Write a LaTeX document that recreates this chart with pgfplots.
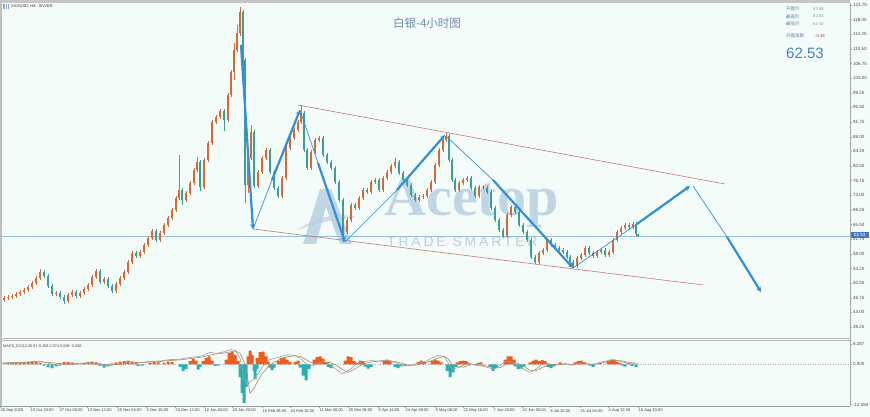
\documentclass[border=0pt]{standalone}
\usepackage{fontspec}
\setmainfont{Liberation Sans}
\newfontfamily\cjk{Noto Sans CJK SC}
\newfontfamily\wmserif{Liberation Serif}
\newfontfamily\wmsans[LetterSpace=20]{Liberation Sans}
\usepackage{pgfplots}
\usepackage{pgfplotstable}
\pgfplotsset{compat=1.18}
\usetikzlibrary{arrows.meta}

\definecolor{bgc}{RGB}{244,252,249}
\definecolor{upc}{RGB}{214,108,58}
\definecolor{dnc}{RGB}{64,160,152}
\definecolor{arrc}{RGB}{52,142,218}
\definecolor{chan}{RGB}{196,120,120}
\definecolor{pricel}{RGB}{150,190,220}
\definecolor{hup}{RGB}{240,90,30}
\definecolor{hdn}{RGB}{40,175,175}
\definecolor{macdl}{RGB}{160,160,160}
\definecolor{sigl}{RGB}{175,135,105}
\definecolor{titlec}{RGB}{110,140,165}
\definecolor{infol}{RGB}{90,130,180}
\definecolor{infov}{RGB}{150,150,150}
\definecolor{negc}{RGB}{215,45,45}
\definecolor{bigc}{RGB}{70,130,185}
\definecolor{wm}{RGB}{185,208,226}
\definecolor{wm2}{RGB}{185,200,214}
\definecolor{boxc}{RGB}{70,120,190}

\pgfplotstableread{
x o c h l
0 46.40 46.17 46.90 45.67
4 46.17 46.68 47.18 45.67
8 46.68 46.94 47.44 46.18
12 46.94 47.19 47.69 46.44
16 47.19 47.71 48.21 46.69
20 47.71 48.22 48.72 47.21
24 48.22 48.73 49.23 47.72
28 48.73 49.50 50.00 48.23
32 49.50 50.53 51.03 49.00
36 50.53 51.81 52.31 50.03
40 51.81 53.34 54.10 51.31
44 53.34 52.32 53.84 51.82
48 52.32 49.76 52.82 49.26
52 49.76 47.71 50.26 47.21
56 47.71 47.96 48.46 47.21
60 47.96 46.94 48.46 46.44
64 46.94 45.91 47.44 45.20
68 45.91 47.45 47.95 45.41
72 47.45 48.22 48.72 46.95
76 48.22 47.19 48.72 46.69
80 47.19 47.96 48.46 46.69
84 47.96 48.99 49.49 47.46
88 48.99 50.01 50.51 48.49
92 50.01 52.06 52.56 49.51
96 52.06 53.60 54.10 51.56
100 53.60 50.78 54.10 50.28
104 50.78 51.55 52.05 50.28
108 51.55 49.76 52.05 49.26
112 49.76 48.48 50.26 47.98
116 48.48 50.27 50.77 47.98
120 50.27 51.81 52.31 49.77
124 51.81 53.34 53.84 51.31
128 53.34 55.91 56.41 52.84
132 55.91 58.21 58.71 55.41
136 58.21 57.44 58.71 56.94
140 57.44 58.47 58.97 56.94
144 58.47 60.26 60.76 57.97
148 60.26 62.05 62.55 59.76
152 62.05 63.85 64.35 61.55
156 63.85 61.54 64.35 61.04
160 61.54 63.34 63.84 61.04
164 63.34 65.38 65.88 62.84
168 65.38 67.18 67.68 64.88
172 67.18 69.23 69.73 66.68
176 69.23 72.30 72.80 68.73
179 72.30 74.35 83.32 71.80
182 74.35 71.79 74.85 70.50
186 71.79 73.58 74.08 71.29
190 73.58 76.15 76.65 73.08
194 76.15 79.48 79.98 75.65
197 79.48 81.53 82.80 78.98
200 81.53 75.12 82.03 74.20
204 75.12 82.04 82.54 74.62
208 82.04 86.39 86.89 81.54
212 86.39 91.77 92.27 85.89
216 91.77 93.05 93.55 91.27
220 93.05 94.59 95.09 92.55
224 94.59 92.29 95.09 89.50
228 92.29 98.69 99.19 91.79
231 98.69 104.58 105.08 98.19
234 104.58 110.22 112.00 102.50
237 110.22 114.58 116.50 109.72
240 114.58 119.96 121.24 113.80
243 119.96 107.66 120.46 105.00
245 107.66 75.63 108.16 71.03
248 75.63 82.55 83.05 73.50
251 82.55 89.21 91.01 82.05
254 89.21 75.38 89.71 74.88
258 75.38 78.96 79.46 74.88
262 78.96 82.55 83.05 78.46
266 82.55 84.60 85.10 82.05
270 84.60 78.96 85.10 78.46
274 78.96 74.86 79.46 74.36
278 74.86 72.81 75.36 72.31
282 72.81 77.43 77.93 72.31
286 77.43 85.11 85.61 76.93
290 85.11 87.67 88.17 84.61
294 87.67 89.72 90.22 87.17
298 89.72 91.77 92.27 89.22
301 91.77 94.08 96.13 91.27
304 94.08 84.60 94.58 84.10
307 84.60 79.99 85.10 79.49
311 79.99 84.09 84.59 79.49
315 84.09 87.16 87.66 83.59
319 87.16 87.67 88.17 86.66
323 87.67 83.32 88.17 82.82
327 83.32 81.53 83.82 81.03
331 81.53 79.99 82.03 79.49
335 79.99 76.40 80.49 75.90
339 76.40 71.79 76.90 71.29
343 71.79 63.59 72.29 61.03
347 63.59 66.67 67.17 63.09
351 66.67 70.51 71.01 66.17
355 70.51 69.74 71.01 69.24
359 69.74 72.30 72.80 69.24
363 72.30 74.35 74.85 71.80
367 74.35 73.84 74.85 73.34
371 73.84 76.40 76.90 73.34
375 76.40 76.91 77.41 75.90
379 76.91 74.35 77.41 73.85
383 74.35 77.43 77.93 73.85
387 77.43 78.96 79.46 76.93
391 78.96 80.50 81.00 78.46
395 80.50 81.53 82.55 80.00
399 81.53 78.71 82.03 78.21
403 78.71 76.91 79.21 76.41
407 76.91 75.63 77.41 75.13
411 75.63 73.07 76.13 72.57
415 73.07 71.79 73.57 71.29
419 71.79 72.56 73.06 71.29
423 72.56 72.81 73.31 72.06
427 72.81 74.35 74.85 72.31
431 74.35 76.40 76.90 73.85
435 76.40 80.76 81.26 75.90
439 80.76 84.60 85.10 80.26
443 84.60 87.16 87.66 84.10
446 87.16 88.19 88.96 86.66
449 88.19 82.04 88.69 81.54
452 82.04 76.91 82.54 76.41
455 76.91 74.35 77.41 73.85
459 74.35 76.15 76.65 73.85
463 76.15 76.91 77.41 75.65
467 76.91 77.43 77.93 76.41
471 77.43 74.86 77.93 74.36
475 74.86 72.81 75.36 72.31
479 72.81 75.12 75.62 72.31
483 75.12 74.86 75.62 74.36
487 74.86 73.84 75.36 73.34
491 73.84 69.74 74.34 69.24
495 69.74 66.67 70.24 66.17
499 66.67 64.10 67.17 63.60
503 64.10 62.57 64.60 62.07
507 62.57 67.95 68.45 62.07
511 67.95 70.00 70.50 67.45
515 70.00 68.72 70.50 68.22
519 68.72 65.38 69.22 64.88
523 65.38 63.59 65.88 63.09
527 63.59 61.54 64.09 61.04
531 61.54 57.19 62.04 56.69
535 57.19 55.91 57.69 55.41
539 55.91 58.21 58.71 55.41
543 58.21 58.98 59.48 57.71
547 58.98 61.54 62.04 58.48
551 61.54 60.26 62.04 59.76
555 60.26 59.49 60.76 58.99
559 59.49 58.98 59.99 58.48
563 58.98 58.47 59.48 57.97
567 58.47 57.19 58.97 56.69
570 57.19 55.91 57.69 55.41
573 55.91 54.88 56.41 54.37
577 54.88 56.93 57.43 54.38
581 56.93 57.70 58.20 56.43
585 57.70 59.49 59.99 57.20
589 59.49 58.21 59.99 57.71
593 58.21 57.44 58.71 56.94
597 57.44 58.47 58.97 56.94
601 58.47 58.98 59.48 57.97
605 58.98 57.70 59.48 57.20
609 57.70 58.47 58.97 57.20
613 58.47 61.54 62.04 57.97
617 61.54 63.59 64.09 61.04
621 63.59 64.62 65.12 63.09
625 64.62 65.38 65.88 64.12
629 65.38 64.87 65.88 64.37
633 64.87 65.64 66.14 64.37
636 65.64 63.00 66.14 62.50
638 62.98 62.53 63.03 62.40
}\candles

\begin{document}
\begin{tikzpicture}
\fill[bgc] (0pt,0pt) rectangle (870pt,417pt);
\useasboundingbox (0pt,0pt) rectangle (870pt,417pt);

% watermark
\fill[wm, opacity=0.85] (303pt,173pt) -- (320pt,228pt) -- (331pt,228pt) -- (352pt,173pt) -- (340pt,173pt) -- (326pt,210pt) -- (316pt,173pt) -- cycle;
\fill[wm, opacity=0.7] (296pt,186pt) .. controls (318pt,202pt) and (340pt,204pt) .. (356pt,200pt) .. controls (340pt,197pt) and (318pt,196pt) .. (296pt,186pt) -- cycle;
\node[anchor=base west, inner sep=0pt, text=wm, opacity=0.85, xscale=1.04] at (384pt,201pt) {\wmserif\bfseries\fontsize{56}{56}\selectfont Acetop};
\node[anchor=base west, inner sep=0pt, text=wm2, opacity=0.9] at (387pt,170pt) {\wmsans\fontsize{14}{14}\selectfont TRADE SMARTER};

% main price panel
\begin{axis}[at={(0pt,80pt)}, anchor=south west, scale only axis,
  width=850pt, height=334pt,
  xmin=0, xmax=850, ymin=36.69, ymax=122.26,
  axis line style={draw=none},
  xtick=\empty,
  ytick={39.25,43.00,46.75,50.50,54.25,58.00,61.75,65.50,69.25,73.00,76.75,80.50,84.25,88.00,91.75,95.50,99.25,103.00,106.75,110.50,114.25,118.00,121.75},
  yticklabel pos=right, ytick pos=right,
  tick align=outside, major tick length=2pt,
  tick style={gray!70, line width=0.4pt},
  yticklabel style={font=\fontsize{4.5}{4.5}\selectfont, text=black!70, inner xsep=1pt,
    /pgf/number format/fixed, /pgf/number format/fixed zerofill,
    /pgf/number format/precision=2, /pgf/number format/assume math mode=true},
  colormap={updown}{rgb255=(60,158,148) rgb255=(212,106,56)},
  point meta min=0, point meta max=1]
% current price line
\addplot[pricel, line width=0.6pt] coordinates {(0,62.53) (850,62.53)};
% channel
\addplot[chan, line width=0.6pt] coordinates {(298,96.13) (725,75.89)};
\addplot[chan, line width=0.6pt] coordinates {(253,64.36) (703,50.01)};
% wicks
\addplot[-, quiver={u=0, v=\thisrow{h}-\thisrow{l}, colored=mapped color},
  point meta={\thisrow{c}>\thisrow{o}}, line width=0.45pt] table[x=x, y=l] {\candles};
% bodies
\addplot[-, quiver={u=0, v=\thisrow{c}-\thisrow{o}, colored=mapped color},
  point meta={\thisrow{c}>\thisrow{o}}, line width=1.4pt] table[x=x, y=o] {\candles};
% arrows
\addplot[arrc, line width=2.2pt, -{Stealth[length=5pt, width=5pt]}] coordinates {(241,111.50) (253,64.36)};
\addplot[arrc, line width=0.7pt] coordinates {(253,64.36) (272,76.91)};
\addplot[arrc, line width=2.2pt, -{Stealth[length=5pt, width=5pt]}] coordinates {(272,76.91) (300,94.85)};
\addplot[arrc, line width=0.7pt] coordinates {(300,94.85) (318,81.27)};
\addplot[arrc, line width=2.2pt, -{Stealth[length=5pt, width=5pt]}] coordinates {(318,81.27) (345,61.03)};
\addplot[arrc, line width=0.7pt] coordinates {(345,61.03) (397,74.35)};
\addplot[arrc, line width=2.2pt, -{Stealth[length=5pt, width=5pt]}] coordinates {(397,74.35) (445,88.44)};
\addplot[arrc, line width=0.7pt] coordinates {(447,87.93) (493,76.91)};
\addplot[arrc, line width=2.2pt, -{Stealth[length=5pt, width=5pt]}] coordinates {(493,76.91) (573,54.37)};
\addplot[arrc, line width=0.7pt] coordinates {(573,54.37) (637,65.64)};
\addplot[arrc, line width=2.2pt, -{Stealth[length=5pt, width=5pt]}] coordinates {(637,65.64) (690,75.38)};
\addplot[arrc, line width=0.7pt] coordinates {(693,75.38) (727,62.31)};
\addplot[arrc, line width=2.2pt, -{Stealth[length=5pt, width=5pt]}] coordinates {(727,62.31) (761,48.22)};
\end{axis}

% MACD panel
\begin{axis}[at={(0pt,11pt)}, anchor=south west, scale only axis,
  width=850pt, height=64pt,
  xmin=0, xmax=850, ymin=-13, ymax=7,
  axis line style={draw=none},
  ytick={-12.594,0,6.287}, yticklabels={-12.594,0.000,6.287},
  yticklabel pos=right, ytick pos=right,
  xtick={0,30,59,87,117,146,175,204,232,262,290,319,348,378,405,435,463,493,522,550,580,608,638},
  xticklabels={26 Sep 2025,10 Oct 20:00,27 Oct 00:00,13 Nov 12:00,25 Nov 04:00,5 Dec 20:00,24 Dec 12:00,12 Jan 04:00,26 Jan 20:00,18 Feb 08:00,24 Feb 16:00,11 Mar 00:00,25 Mar 08:00,5 Apr 16:00,24 Apr 00:00,9 May 08:00,22 May 16:00,7 Jun 20:00,22 Jun 00:00,6 Jul 20:00,21 Jul 04:00,4 Aug 12:00,18 Aug 20:00},
  xtick pos=bottom,
  tick align=outside, major tick length=2pt,
  tick style={gray!70, line width=0.4pt},
  yticklabel style={font=\fontsize{4.5}{4.5}\selectfont, text=black!70, inner xsep=1pt},
  xticklabel style={font=\fontsize{4}{4}\selectfont, text=black!75, anchor=north west, inner xsep=0.5pt, inner ysep=1pt}]
\addplot[gray!60, dotted, line width=0.5pt] coordinates {(0,0) (850,0)};
\addplot[ybar, bar width=3pt, bar shift=0pt, fill=hup, draw=none] coordinates {
(8,0.3) (12,0.5) (16,0.6) (20,0.4) (24,0.6) (28,0.8) (32,0.9) (36,0.8) (40,0.5)
(60,0.4) (64,0.7) (68,0.8) (72,0.6) (76,0.3)
(84,0.4) (88,0.7) (92,0.9) (96,0.6)
(112,0.3) (116,0.6) (120,0.9) (124,1.0) (128,1.2) (132,0.9) (136,0.6)
(150,0.5) (154,0.8) (158,0.6)
(164,0.5) (168,0.9) (172,0.7)
(190,1.0) (193,1.8) (196,1.2)
(203,1.0) (206,2.0) (209,2.5) (212,1.2)
(226,1.5) (229,3.5) (232,4.0) (235,3.0) (238,1.0)
(248,2.5) (250,4.3) (252,3.0)
(257,2.0) (260,3.8) (263,4.0) (266,2.5) (268,0.8)
(278,1.0) (281,2.0) (284,2.2) (287,1.5) (290,0.8)
(295,0.8) (298,1.2)
(314,1.5) (317,2.3) (320,2.5) (323,1.8) (326,0.7)
(345,1.2) (348,2.5) (351,2.3) (354,1.0)
(357,0.5) (360,1.2) (363,1.0)
(384,1.0) (387,1.5) (390,1.2)
(418,0.8) (421,1.2) (424,0.8)
(432,1.0) (435,1.5) (438,1.2) (441,0.6)
(457,0.6) (460,1.0) (463,1.2) (466,1.0) (469,0.5)
(478,0.5) (481,0.6)
(505,1.5) (508,2.5) (511,2.5) (514,1.5)
(530,0.6) (533,1.2) (536,1.5) (539,1.0) (542,1.3) (545,1.0)
(560,0.6)
(575,0.6) (578,1.0) (581,1.2) (584,0.8)
(600,0.4)
(608,1.0) (611,1.5) (614,1.4) (617,0.8) (620,0.4)
(628,0.4)};
\addplot[ybar, bar width=3pt, bar shift=0pt, fill=hdn, draw=none] coordinates {
(44,-0.4) (48,-0.9) (52,-1.2) (56,-0.6)
(100,-0.5) (104,-1.0) (108,-0.6)
(138,-0.5) (142,-0.4)
(180,-0.8) (183,-2.0) (186,-1.5)
(198,-1.6) (200,-0.8)
(215,-0.5) (218,-0.4)
(240,-4.0) (242,-9.0) (244,-12.0) (246,-7.0)
(254,-2.0) (255,-4.5) (257,-1.5)
(270,-1.0) (272,-1.8) (274,-1.0)
(300,-1.0) (303,-3.5) (306,-5.0) (309,-1.5)
(328,-0.8) (331,-1.2)
(365,-0.7) (368,-1.3) (371,-0.8)
(395,-0.8) (398,-1.2) (401,-0.6) (405,-0.5)
(447,-2.0) (450,-4.0) (453,-2.5) (456,-0.8)
(490,-0.8) (493,-2.0) (496,-1.2)
(515,-0.6) (518,-1.5) (521,-1.3) (524,-0.6)
(548,-0.8) (551,-1.2) (554,-0.6)
(590,-0.4) (593,-0.8)
(622,-0.4) (625,-0.7) (632,-0.5) (636,-0.8)};
\addplot[macdl, line width=0.6pt] coordinates {
(0,0.4) (10,0.6) (20,0.5) (30,0.8) (40,1.0) (50,0.2) (60,-0.3) (70,0.2) (80,0.3) (90,0.6) (100,-0.2) (110,-0.4) (120,0.3) (130,0.8) (140,0.6) (150,0.9) (160,1.1) (170,1.5) (180,1.6) (190,2.2) (200,2.5) (205,3.0) (210,3.8) (215,3.5) (220,3.6) (225,4.0) (230,4.6) (235,4.5) (240,2.0) (244,-4.0) (247,-6.5) (250,-5.5) (254,-4.5) (258,-3.0) (262,-1.0) (266,0.8) (270,1.5) (276,2.0) (282,2.6) (288,3.0) (294,2.8) (300,2.0) (306,0.2) (312,-0.5) (318,0.5) (324,1.0) (330,0.0) (336,-1.5) (342,-3.0) (348,-2.0) (354,-0.5) (360,0.5) (366,1.0) (372,1.2) (378,1.0) (384,1.3) (390,1.0) (396,0.5) (402,-0.3) (408,-0.5) (414,0.0) (420,0.5) (426,1.0) (432,2.0) (438,2.8) (444,2.5) (448,0.5) (452,-1.5) (458,-1.0) (464,-0.2) (470,0.3) (476,-0.3) (482,-0.5) (488,-1.0) (494,-1.5) (500,-0.3) (506,1.0) (512,0.8) (518,-0.5) (524,-1.5) (530,-2.5) (536,-1.5) (542,0.0) (548,0.3) (554,-0.2) (560,0.0) (566,0.3) (572,-0.3) (578,0.5) (584,0.4) (590,-0.2) (596,0.3) (602,0.8) (608,1.2) (614,1.5) (620,1.0) (626,0.5) (632,0.3) (638,-0.26)};
\addplot[sigl, line width=0.6pt] coordinates {
(0,0.3) (10,0.4) (20,0.5) (30,0.6) (40,0.8) (50,0.6) (60,0.2) (70,0.0) (80,0.2) (90,0.4) (100,0.2) (110,-0.2) (120,0.0) (130,0.4) (140,0.6) (150,0.7) (160,0.9) (170,1.2) (180,1.4) (190,1.8) (200,2.2) (205,2.5) (210,2.9) (215,3.2) (220,3.4) (225,3.6) (230,3.9) (235,4.2) (240,3.5) (244,0.8) (247,-3.0) (250,-9.0) (254,-7.5) (258,-5.0) (262,-3.0) (266,-1.5) (270,-0.2) (276,1.0) (282,1.8) (288,2.4) (294,2.7) (300,2.5) (306,1.5) (312,0.5) (318,0.2) (324,0.5) (330,0.6) (336,-0.2) (342,-1.5) (348,-2.5) (354,-1.6) (360,-0.4) (366,0.4) (372,0.8) (378,1.0) (384,1.1) (390,1.1) (396,0.8) (402,0.3) (408,-0.2) (414,-0.3) (420,0.1) (426,0.6) (432,1.2) (438,2.0) (444,2.5) (448,1.8) (452,0.0) (458,-0.8) (464,-0.8) (470,-0.2) (476,0.0) (482,-0.3) (488,-0.6) (494,-1.1) (500,-1.0) (506,0.0) (512,0.7) (518,0.3) (524,-0.7) (530,-1.8) (536,-2.0) (542,-1.0) (548,-0.2) (554,0.0) (560,-0.1) (566,0.1) (572,0.0) (578,0.2) (584,0.4) (590,0.1) (596,0.1) (602,0.5) (608,0.9) (614,1.2) (620,1.2) (626,0.8) (632,0.5) (638,0.37)};
\end{axis}

% frame lines
\fill[gray!45] (0pt,414pt) rectangle (850pt,417pt);
\draw[gray!50, line width=1.5pt] (0.75pt,11pt) -- (0.75pt,414pt);
\draw[gray!70, line width=0.6pt] (850pt,11pt) -- (850pt,414pt);
\draw[gray!55, line width=0.9pt] (0pt,79pt) -- (850pt,79pt);
\draw[gray!55, line width=0.9pt] (0pt,76.3pt) -- (850pt,76.3pt);
\draw[gray!80, line width=0.6pt] (0pt,11pt) -- (850pt,11pt);

% price label box
\fill[boxc] (850.5pt,179pt) rectangle (869pt,185pt);
\node[text=white, inner sep=0pt] at (859.7pt,182pt) {\fontsize{4.5}{4.5}\selectfont 62.53};

% header texts
\fill[infol!70] (3pt,408pt) rectangle (9pt,413pt);
\draw[white, line width=0.3pt] (5pt,408pt) -- (5pt,413pt) (7pt,408pt) -- (7pt,413pt);
\node[anchor=west, inner sep=0pt, text=black!80] at (11pt,410.5pt) {\fontsize{4}{4}\selectfont XAGUSD, H4:\ \ SILVER};
\node[text=titlec, inner sep=0pt] at (427pt,394pt) {\cjk\fontsize{11.5}{11.5}\selectfont 白银-4小时图};
\node[anchor=west, inner sep=0pt, text=infol] at (786pt,408pt) {\cjk\fontsize{4.5}{4.5}\selectfont 开盘价};
\node[anchor=west, inner sep=0pt, text=infov] at (813pt,408pt) {\fontsize{4.2}{4.2}\selectfont 62.98};
\node[anchor=west, inner sep=0pt, text=infol] at (786pt,400.5pt) {\cjk\fontsize{4.5}{4.5}\selectfont 最高价};
\node[anchor=west, inner sep=0pt, text=infov] at (813pt,400.5pt) {\fontsize{4.2}{4.2}\selectfont 63.03};
\node[anchor=west, inner sep=0pt, text=infol] at (786pt,393pt) {\cjk\fontsize{4.5}{4.5}\selectfont 最低价};
\node[anchor=west, inner sep=0pt, text=infov] at (813pt,393pt) {\fontsize{4.2}{4.2}\selectfont 62.40};
\node[anchor=west, inner sep=0pt, text=infol] at (786pt,381pt) {\cjk\fontsize{4.5}{4.5}\selectfont 开盘涨跌};
\node[anchor=west, inner sep=0pt, text=negc] at (815pt,381pt) {\fontsize{4.2}{4.2}\selectfont -0.49};
\node[text=bigc, inner sep=0pt] at (805pt,364pt) {\fontsize{15}{15}\selectfont 62.53};

% MACD label
\node[anchor=west, inner sep=0pt, text=black!75] at (3pt,70.5pt) {\fontsize{3.8}{3.8}\selectfont MACD\_EX(12,26,9) -0.259 0.374 0.088 -0.366};
\end{tikzpicture}
\end{document}
